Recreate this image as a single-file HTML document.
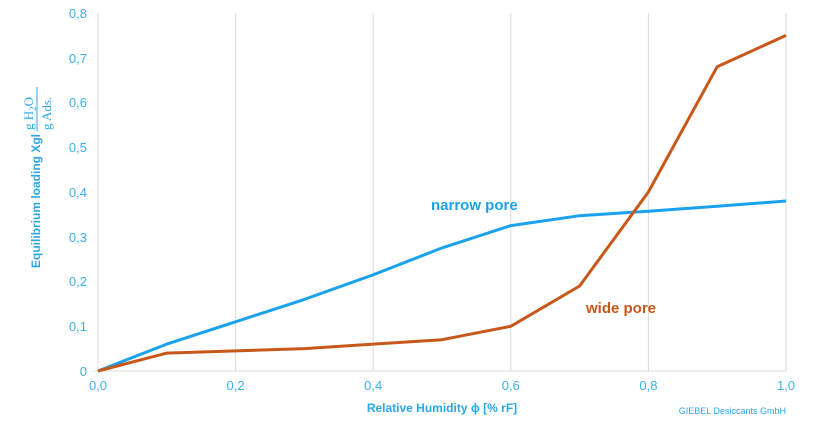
<!DOCTYPE html>
<html><head><meta charset="utf-8"><style>
body{margin:0;background:#fff;}
svg{display:block;font-family:"Liberation Sans",sans-serif;}
</style></head><body>
<svg width="818" height="424" viewBox="0 0 818 424">
<g stroke="#dcdcdc" stroke-width="1">
<line x1="235.6" y1="13" x2="235.6" y2="371"/>
<line x1="373.2" y1="13" x2="373.2" y2="371"/>
<line x1="510.8" y1="13" x2="510.8" y2="371"/>
<line x1="648.4" y1="13" x2="648.4" y2="371"/>
<line x1="786" y1="13" x2="786" y2="371"/>
<line x1="98" y1="13" x2="98" y2="371"/>
<line x1="93" y1="371" x2="786" y2="371"/>
</g>
<g fill="#3ab0ee" font-size="13" text-anchor="end">
<text x="87" y="18">0,8</text><text x="87" y="63">0,7</text><text x="87" y="107">0,6</text>
<text x="87" y="152">0,5</text><text x="87" y="197">0,4</text><text x="87" y="242">0,3</text>
<text x="87" y="286">0,2</text><text x="87" y="331">0,1</text><text x="87" y="376">0</text>
</g>
<g fill="#3ab0ee" font-size="13" text-anchor="middle">
<text x="98" y="390">0,0</text><text x="235.6" y="390">0,2</text><text x="373.2" y="390">0,4</text>
<text x="510.8" y="390">0,6</text><text x="648.4" y="390">0,8</text><text x="786" y="390">1,0</text>
</g>
<text x="442" y="412" fill="#29a8e8" font-size="12" font-weight="bold" text-anchor="middle">Relative Humidity ϕ [% rF]</text>
<text x="786" y="414" fill="#29a8e8" font-size="9" text-anchor="end">GIEBEL Desiccants GmbH</text>
<g transform="translate(40,268) rotate(-90)" fill="#29a8e8">
<text x="0" y="0" font-size="12" font-weight="bold">Equilibrium loading Xgl</text>
<text x="138" y="-7" font-size="13" font-family="Liberation Serif,serif">g H<tspan font-size="9" dy="3">2</tspan><tspan dy="-3">O</tspan></text>
<line x1="137" y1="-3" x2="181" y2="-3" stroke="#29a8e8" stroke-width="1"/>
<text x="138" y="11" font-size="13" font-family="Liberation Serif,serif">g Ads.</text>
</g>
<polyline fill="none" stroke="#1aa3ec" stroke-width="3" stroke-linejoin="round" points="98,371 166.8,344.1 235.6,321.8 304.4,299.4 373.2,274.8 442,247.9 510.8,225.6 579.6,215.7 648.4,211.2 717.2,206.3 786,201"/>
<polyline fill="none" stroke="#c8581a" stroke-width="3" stroke-linejoin="round" points="98,371 166.8,353.1 235.6,350.9 304.4,348.6 373.2,344.1 442,339.7 510.8,326.3 579.6,286 648.4,192 717.2,66.7 786,35.4"/>
<text x="431" y="210" fill="#1aa3ec" font-size="15" font-weight="bold">narrow pore</text>
<text x="586" y="313" fill="#c8581a" font-size="15" font-weight="bold">wide pore</text>
</svg>
</body></html>
